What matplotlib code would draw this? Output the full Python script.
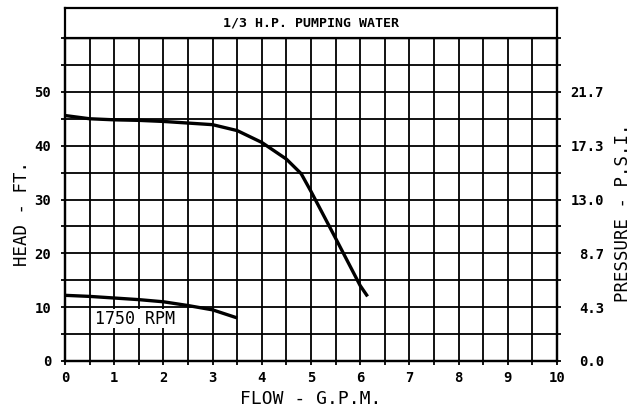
import matplotlib
matplotlib.use("Agg")
import matplotlib.pyplot as plt
from matplotlib.patches import Rectangle

# ---- data ----
flow_main = [0, 0.5, 1.0, 1.5, 2.0, 2.5, 3.0, 3.5, 4.0, 4.5, 4.8, 5.0, 5.5, 6.0, 6.15]
head_main = [45.6, 45.0, 44.8, 44.7, 44.5, 44.2, 43.9, 42.8, 40.6, 37.5, 34.8, 31.5, 22.8, 14.0, 12.0]

flow_low = [0, 0.5, 1.0, 1.5, 2.0, 2.5, 3.0, 3.5]
head_low = [12.2, 12.0, 11.7, 11.4, 11.0, 10.3, 9.5, 8.0]

x_ticks = [0, 1, 2, 3, 4, 5, 6, 7, 8, 9, 10]
y_ticks = [0, 10, 20, 30, 40, 50]
psi_labels = ["0.0", "4.3", "8.7", "13.0", "17.3", "21.7"]

title = "1/3 H.P. PUMPING WATER"
curve_label = "1750 RPM"

# ---- figure ----
W, H = 642, 416
fig = plt.figure(figsize=(W / 100, H / 100), dpi=100)
fig.patch.set_facecolor("white")

L, R, B, T = 65, 557, 361, 38
ax = fig.add_axes([L / W, (H - B) / H, (R - L) / W, (B - T) / H])
ax.set_xlim(0, 10)
ax.set_ylim(0, 60)

mono = "DejaVu Sans Mono"

# grid
for xv in [i * 0.5 for i in range(1, 20)]:
    ax.axvline(xv, color="black", lw=1.3, zorder=1)
for yv in range(5, 60, 5):
    ax.axhline(yv, color="black", lw=1.3, zorder=1)

for s in ax.spines.values():
    s.set_linewidth(1.6)

ax.set_xticks(x_ticks)
ax.set_xticks([i * 0.5 for i in range(21)], minor=True)
ax.set_xticklabels([str(v) for v in x_ticks], fontfamily=mono, fontweight="bold", fontsize=10)
ax.set_yticks(y_ticks)
ax.set_yticks(list(range(0, 61, 5)), minor=True)
ax.set_yticklabels([str(v) for v in y_ticks], fontfamily=mono, fontweight="bold", fontsize=10)
ax.tick_params(which="both", direction="out", length=3, width=1.3)
ax.tick_params(axis="x", pad=4)
ax.tick_params(axis="y", pad=7)

# curves
ax.plot(flow_main, head_main, color="black", lw=2.4, solid_capstyle="butt", zorder=3)
ax.plot(flow_low, head_low, color="black", lw=2.4, solid_capstyle="butt", zorder=3)

# label box
ax.add_patch(Rectangle((0.55, 6.1), 1.75, 3.5, facecolor="white", edgecolor="none", zorder=2))
ax.text(1.42, 7.85, curve_label, fontfamily=mono, fontsize=12, ha="center", va="center", zorder=4)

ax.set_xlabel("FLOW - G.P.M.", fontfamily=mono, fontsize=13, va="center")
ax.xaxis.set_label_coords(0.5, -0.119)
ax.set_ylabel("HEAD - FT.", fontfamily=mono, fontsize=12.5, va="center")
ax.yaxis.set_label_coords(-0.088, 0.458)

# right axis
ax2 = ax.twinx()
ax2.set_ylim(0, 60)
ax2.set_yticks(y_ticks)
ax2.set_yticks(list(range(0, 61, 5)), minor=True)
ax2.set_yticklabels(psi_labels, fontfamily=mono, fontweight="bold", fontsize=10)
for lab in ax2.get_yticklabels():
    lab.set_horizontalalignment("right")
ax2.tick_params(which="both", direction="out", length=3, width=1.3)
ax2.tick_params(axis="y", pad=31)
ax2.set_ylabel("PRESSURE - P.S.I.", fontfamily=mono, fontsize=12.5, va="center")
ax2.yaxis.set_label_coords(1.134, 0.458)
for s in ax2.spines.values():
    s.set_linewidth(1.6)

# title box
tax = fig.add_axes([L / W, (H - T) / H, (R - L) / W, 30 / H])
tax.set_xticks([])
tax.set_yticks([])
for s in tax.spines.values():
    s.set_linewidth(1.6)
tax.text(0.5, 0.5, title, transform=tax.transAxes, ha="center", va="center",
         fontfamily=mono, fontweight="bold", fontsize=9.5)

fig.savefig("out.png", dpi=100, facecolor="white")
